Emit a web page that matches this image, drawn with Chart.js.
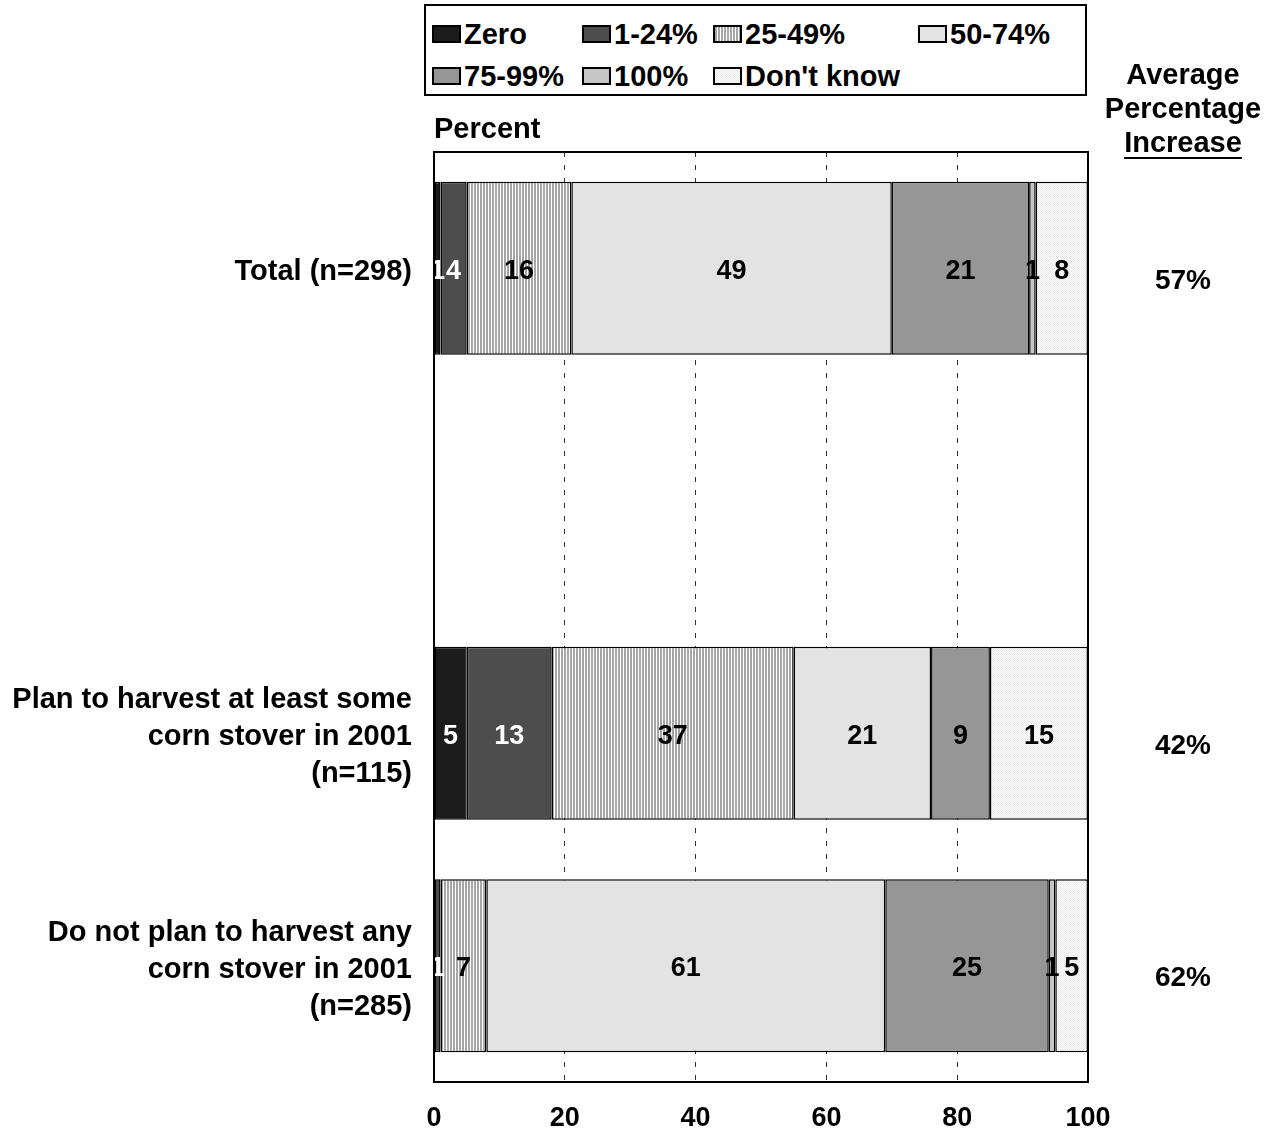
<!DOCTYPE html>
<html>
<head>
<meta charset="utf-8">
<script src="https://cdn.jsdelivr.net/npm/chart.js@4"></script>
<style>
  html,body{margin:0;padding:0;background:#fff;}
  #wrap{position:relative;width:1276px;height:1131px;}
  #chart{position:absolute;left:0;top:0;}
  #legend{position:absolute;left:424px;top:4px;width:659px;height:88px;border:2px solid #000;background:#fff;
    font:bold 29px "Liberation Sans", Arial, sans-serif;color:#000;}
  .item{position:absolute;display:flex;align-items:center;height:34px;white-space:nowrap;}
  .sw{width:25px;height:14px;border:2px solid #000;margin-right:3px;background-repeat:repeat;}
</style>
</head>
<body>
<div id="wrap">
  <canvas id="chart" width="1276" height="1131"></canvas>
  <div id="legend"></div>
</div>
<script>
// categories (2nd slot is an empty row, as in the original)
const categories = [
  'Total (n=298)',
  '',
  ['Plan to harvest at least some', 'corn stover in 2001', '(n=115)'],
  ['Do not plan to harvest any', 'corn stover in 2001', '(n=285)']
];
const seriesNames = ['Zero', '1-24%', '25-49%', '50-74%', '75-99%', '100%', "Don't know"];

// percent of respondents per group
const zero      = [1, null, 5, 0];
const pct1to24  = [4, null, 13, 1];
const pct25to49 = [16, null, 37, 7];
const pct50to74 = [49, null, 21, 61];
const pct75to99 = [21, null, 9, 25];
const pct100    = [1, null, 0, 1];
const dontKnow  = [8, null, 15, 5];

const avgIncrease = ['57%', '', '42%', '62%'];
const xTicks = [0, 20, 40, 60, 80, 100];

const FONT = '"Liberation Sans", Arial, sans-serif';

// fill patterns
function makePattern(w, h, draw){
  const c = document.createElement('canvas');
  c.width = w; c.height = h;
  const g = c.getContext('2d');
  draw(g);
  return {canvas: c, pattern: g.createPattern(c, 'repeat')};
}
const stripes = makePattern(3, 4, g => {
  g.fillStyle = '#fff'; g.fillRect(0,0,3,4);
  g.fillStyle = '#a6a6a6'; g.fillRect(0,0,2,4);
});
const dots = makePattern(2, 2, g => {
  g.fillStyle = '#fff'; g.fillRect(0,0,2,2);
  g.fillStyle = '#e8e8e8'; g.fillRect(0,0,1,1); g.fillRect(1,1,1,1);
});

const fills = ['#1c1c1c', '#4d4d4d', stripes.pattern, '#e3e3e3', '#969696', '#c6c6c6', dots.pattern];
const swatchCss = ['#1c1c1c', '#4d4d4d', 'url(' + stripes.canvas.toDataURL() + ')', '#e3e3e3', '#969696', '#c6c6c6', 'url(' + dots.canvas.toDataURL() + ')'];
const labelColors = ['#fff', '#fff', '#000', '#000', '#000', '#000', '#000'];
const allSeries = [zero, pct1to24, pct25to49, pct50to74, pct75to99, pct100, dontKnow];

// legend (html box on top)
const legendEl = document.getElementById('legend');
const legendPos = [[6,11],[156,11],[287,11],[492,11],[6,53],[156,53],[287,53]];
seriesNames.forEach((name, i) => {
  const it = document.createElement('div');
  it.className = 'item';
  it.style.left = legendPos[i][0] + 'px';
  it.style.top = legendPos[i][1] + 'px';
  const sw = document.createElement('div');
  sw.className = 'sw';
  sw.style.background = swatchCss[i];
  it.appendChild(sw);
  it.appendChild(document.createTextNode(name));
  legendEl.appendChild(it);
});

// frame, labels, right column
const extras = {
  id: 'extras',
  afterDatasetsDraw(chart){
    const ctx = chart.ctx;
    ctx.save();
    ctx.font = 'bold 27px ' + FONT;
    ctx.textAlign = 'center';
    ctx.textBaseline = 'middle';
    chart.data.datasets.forEach((ds, di) => {
      const meta = chart.getDatasetMeta(di);
      meta.data.forEach((el, i) => {
        const v = ds.data[i];
        if (!v) return;
        ctx.fillStyle = labelColors[di];
        ctx.fillText(String(v), (el.x + el.base) / 2, el.y + 3);
      });
    });
    ctx.restore();
  },
  afterDraw(chart){
    const ctx = chart.ctx;
    const a = chart.chartArea;
    ctx.save();
    ctx.strokeStyle = '#000';
    ctx.lineWidth = 2;
    ctx.strokeRect(a.left, a.top, a.right - a.left, a.bottom - a.top);

    ctx.fillStyle = '#000';
    ctx.font = 'bold 29px ' + FONT;
    ctx.textBaseline = 'middle';
    ctx.textAlign = 'left';
    ctx.fillText('Percent', a.left, 130);

    ctx.textAlign = 'center';
    const cx = 1183;
    ctx.fillText('Average', cx, 76);
    ctx.fillText('Percentage', cx, 110);
    ctx.fillText('Increase', cx, 144);
    const w = ctx.measureText('Increase').width;
    ctx.fillRect(cx - w / 2, 157, w, 2);

    ctx.font = 'bold 28px ' + FONT;
    const ys = chart.scales.y;
    avgIncrease.forEach((t, i) => {
      if (t) ctx.fillText(t, cx, ys.getPixelForValue(i) + 13);
    });
    ctx.restore();
  }
};

new Chart(document.getElementById('chart'), {
  type: 'bar',
  data: {
    labels: categories,
    datasets: seriesNames.map((name, i) => ({
      label: name,
      data: allSeries[i],
      backgroundColor: fills[i],
      borderColor: '#000',
      borderWidth: 1.5,
      borderSkipped: false,
      barPercentage: 0.745,
      categoryPercentage: 1
    }))
  },
  options: {
    indexAxis: 'y',
    responsive: false,
    animation: false,
    layout: {padding: {top: 152, right: 188, left: 0, bottom: 0}},
    plugins: {legend: {display: false}, tooltip: {enabled: false}},
    scales: {
      x: {
        stacked: true,
        min: 0, max: 100,
        afterFit(s){ s.height = 49; },
        afterBuildTicks(s){ s.ticks = xTicks.map(v => ({value: v})); },
        ticks: {color: '#000', font: {family: FONT, size: 27, weight: 'bold'}, padding: 20, maxRotation: 0},
        grid: {
          drawTicks: false,
          color: c => (c.tick && (c.tick.value === 0 || c.tick.value === 100)) ? 'rgba(0,0,0,0)' : '#333',
          lineWidth: 1
        },
        border: {display: false, dash: [5, 8]}
      },
      y: {
        stacked: true,
        afterFit(s){ s.width = 434; },
        ticks: {color: '#000', font: {family: FONT, size: 29, weight: 'bold', lineHeight: 1.28}, padding: 22, labelOffset: 4},
        grid: {display: false, drawTicks: false},
        border: {display: false}
      }
    }
  },
  plugins: [extras]
});
</script>
</body>
</html>
